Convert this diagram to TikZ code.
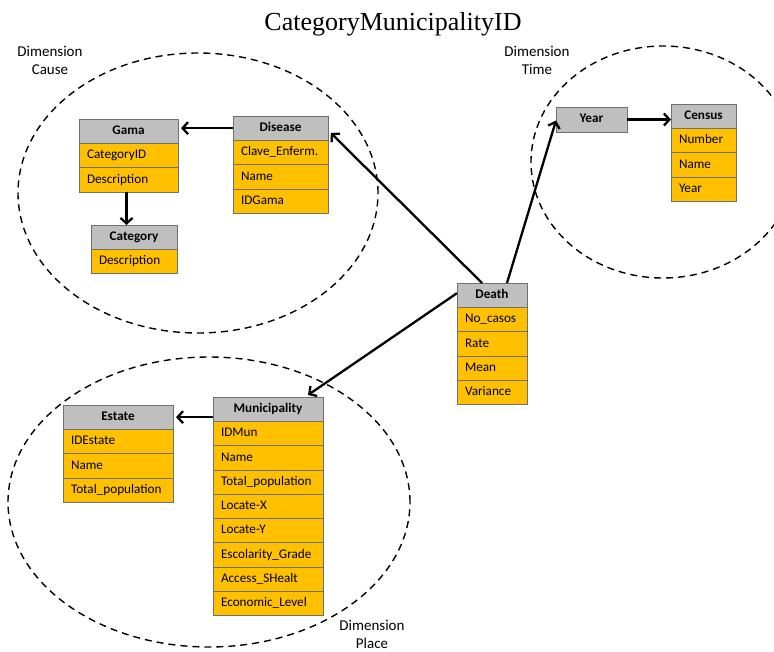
\documentclass[tikz,border=0pt]{standalone}
\usepackage{fontspec}
\setmainfont{Carlito}
\newfontfamily\titlefont{Liberation Serif}
\usetikzlibrary{arrows.meta}
\definecolor{rowcol}{HTML}{FFC000}
\definecolor{hdrcol}{HTML}{BFBFBF}
\definecolor{bordcol}{HTML}{707070}
\tikzset{
  cell/.style={draw=bordcol, line width=0.8pt, minimum height=24.3pt, inner sep=0pt, outer sep=0pt,
               font=\fontsize{13.2}{15}\selectfont, text height=9.5pt, text depth=3pt},
  hdr/.style={cell, fill=hdrcol, font=\fontsize{13.2}{15}\selectfont\bfseries, anchor=north west},
  rowbox/.style={cell, fill=rowcol, inner xsep=8pt, align=left, anchor=north west},
  conn/.style={line width=2.3pt, -{Straight Barb[length=5.5pt,width=12pt,line width=2.3pt]}},
  dimborder/.style={dashed, line width=1.4pt, dash pattern=on 7pt off 5pt},
  dimlabel/.style={align=center, font=\fontsize{15}{18}\selectfont}
}
\newcommand\mktable[5]{%
  \node[hdr, minimum width=#3 pt] (#1) at #2 {#4};
  \pgfmathsetmacro\tabtw{#3-16}
  \foreach \r [count=\i] in {#5} {
    \node[rowbox, text width=\tabtw pt] (#1-\i) at ([yshift={-(\i-1)*24.3pt}]#1.south west) {\r};
  }
}
\begin{document}
\begin{tikzpicture}[x=1pt, y=-1pt]
\useasboundingbox (0,0) rectangle (774,651);

% title
\node[font=\titlefont\fontsize{26}{30}\selectfont, anchor=base] (title) at (393,30) {CategoryMunicipalityID};

% dimension ellipses
\draw[dimborder] (198,193) ellipse [x radius=180pt, y radius=140pt];
\draw[dimborder] (663,162) ellipse [x radius=132pt, y radius=116pt];
\draw[dimborder] (209,502) ellipse [x radius=201pt, y radius=145pt];

\node[dimlabel] (lcause) at (50,60) {Dimension\\Cause};
\node[dimlabel] (ltime) at (537,60) {Dimension\\Time};
\node[dimlabel] (lplace) at (372,634) {Dimension\\Place};

% tables
\mktable{gama}{(79,119)}{99}{Gama}{CategoryID,Description}
\mktable{disease}{(233,116)}{95}{Disease}{Clave\_Enferm.,Name,IDGama}
\mktable{category}{(91,225)}{86}{Category}{Description}
\node[hdr, minimum width=71pt, minimum height=25pt] (year) at (556,107) {Year};
\mktable{census}{(671,104)}{65}{Census}{Number,Name,Year}
\mktable{death}{(457,283)}{70}{Death}{No\_casos,Rate,Mean,Variance}
\mktable{mun}{(213,397)}{110}{Municipality}{IDMun,Name,Total\_population,Locate-X,Locate-Y,Escolarity\_Grade,Access\_SHealt,Economic\_Level}
\mktable{estate}{(63,405)}{110}{Estate}{IDEstate,Name,Total\_population}

% connectors
\draw[conn, shorten >=3pt] (disease.west) -- (gama.east |- disease.west);
\draw[conn] ([xshift=-2pt]gama-2.south) -- ([xshift=-2pt]gama-2.south |- category.north);
\draw[conn] (year.east) -- (census.west |- year.east);
\draw[conn, shorten >=4pt] ([xshift=-10pt]death.north) -- ([yshift=-2pt]disease.east);
\draw[conn] ([xshift=15pt]death.north) -- ([yshift=-1pt]year.west);
\draw[conn] ([yshift=2pt]death.west) -- ([xshift=40pt,yshift=2pt]mun.north);
\coordinate (mw) at (mun.west |- estate.east);
\draw[conn] (mw) -- ([xshift=3pt]estate.east);
\end{tikzpicture}
\end{document}
